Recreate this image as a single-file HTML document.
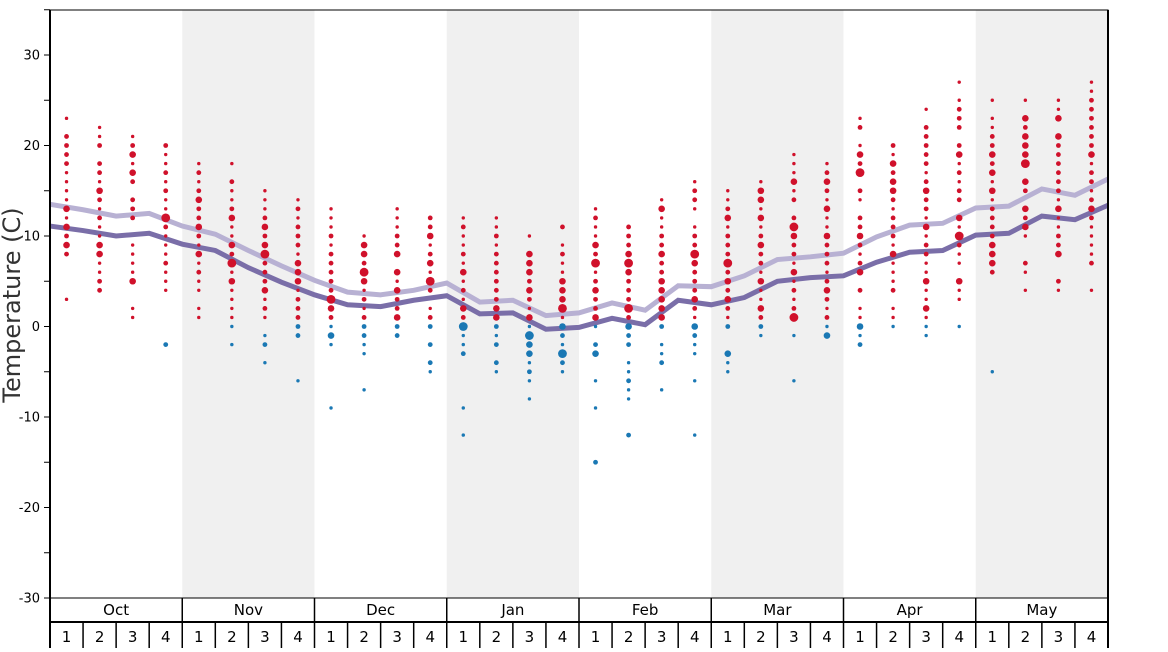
<!DOCTYPE html>
<html><head><meta charset="utf-8"><style>
body{margin:0;background:#fff;width:1168px;height:648px;overflow:hidden;font-family:"DejaVu Sans","Liberation Sans",sans-serif}
</style></head><body>
<svg id="chart" width="1168" height="648" xmlns="http://www.w3.org/2000/svg" font-family="DejaVu Sans, Liberation Sans, sans-serif"></svg>
<script>
const months=["Oct","Nov","Dec","Jan","Feb","Mar","Apr","May"];
const yTicks=[30,20,10,0,-10,-20,-30];
// values at week boundaries (33 points)
const darkLine=[11.1,10.6,10.0,10.3,9.1,8.4,6.5,4.9,3.5,2.4,2.2,2.9,3.4,1.4,1.5,-0.3,-0.1,0.9,0.2,2.9,2.4,3.2,5.0,5.4,5.6,7.1,8.2,8.4,10.1,10.3,12.2,11.8,13.4];
const lightLine=[13.5,12.9,12.2,12.5,11.1,10.2,8.4,6.7,5.1,3.8,3.5,4.0,4.8,2.7,2.9,1.2,1.5,2.6,1.8,4.5,4.4,5.6,7.4,7.7,8.1,9.9,11.2,11.4,13.1,13.3,15.2,14.5,16.3];
// per week: [temperature, frequency class 1-4]
const weekDots=[
[[23,1],[21,2],[20,2],[19,2],[18,2],[17,1],[16,1],[15,1],[14,1],[13,3],[12,1],[11,3],[10,2],[9,3],[8,2],[3,1]],
[[22,1],[21,1],[20,2],[18,2],[17,2],[16,1],[15,3],[14,2],[13,1],[12,2],[11,1],[10,1],[9,3],[8,3],[7,1],[6,1],[5,2],[4,2]],
[[21,1],[20,2],[19,3],[18,1],[17,3],[16,2],[14,2],[13,2],[12,2],[9,1],[8,1],[7,1],[6,1],[5,3],[2,1],[1,1]],
[[20,2],[19,1],[18,1],[17,2],[16,1],[15,2],[14,1],[13,1],[12,4],[11,2],[10,1],[9,1],[8,1],[7,2],[6,1],[5,1],[4,1],[-2,2]],
[[18,1],[17,2],[16,1],[15,2],[14,3],[13,2],[12,2],[11,3],[10,2],[9,1],[8,3],[7,1],[6,2],[5,1],[4,1],[2,1],[1,1]],
[[18,1],[16,2],[15,1],[14,1],[13,2],[12,3],[11,1],[10,1],[9,3],[8,2],[7,4],[6,1],[5,3],[4,1],[3,1],[2,1],[1,1],[0,1],[-2,1]],
[[15,1],[14,1],[13,1],[12,2],[11,3],[10,2],[9,3],[8,4],[7,2],[6,2],[5,2],[4,3],[3,1],[2,2],[1,1],[-1,1],[-2,2],[-4,1]],
[[14,1],[13,2],[12,1],[11,2],[10,2],[9,2],[8,1],[7,3],[6,3],[5,3],[4,1],[3,2],[2,2],[1,2],[0,2],[-1,2],[-6,1]],
[[13,1],[12,1],[11,1],[10,2],[9,1],[8,2],[7,2],[6,2],[5,2],[4,2],[3,4],[2,3],[1,2],[0,1],[-1,3],[-2,1],[-9,1]],
[[10,1],[9,3],[8,3],[7,2],[6,4],[5,3],[4,1],[3,2],[2,1],[1,2],[0,2],[-1,2],[-2,1],[-3,1],[-7,1]],
[[13,1],[12,1],[11,1],[10,2],[9,2],[8,3],[6,3],[5,1],[4,3],[3,2],[2,2],[1,3],[0,2],[-1,2]],
[[12,2],[11,2],[10,3],[9,1],[8,2],[7,3],[6,1],[5,4],[4,2],[2,1],[1,2],[0,2],[-2,2],[-4,2],[-5,1]],
[[12,1],[11,2],[10,1],[9,1],[8,2],[7,1],[6,3],[5,1],[4,2],[3,1],[2,3],[1,2],[0,4],[-1,1],[-2,1],[-3,2],[-9,1],[-12,1]],
[[12,1],[11,1],[10,2],[9,1],[8,2],[7,2],[6,2],[5,2],[4,2],[3,2],[2,3],[1,3],[0,2],[-1,1],[-2,2],[-4,2],[-5,1]],
[[10,1],[8,3],[7,3],[6,3],[5,2],[4,3],[3,2],[2,1],[1,3],[0,1],[-1,4],[-2,3],[-3,3],[-4,1],[-5,2],[-6,1],[-8,1]],
[[11,2],[9,1],[8,2],[7,1],[6,1],[5,3],[4,3],[3,3],[2,4],[1,1],[0,3],[-1,2],[-2,1],[-3,4],[-4,2],[-5,1]],
[[13,1],[12,2],[11,1],[10,1],[9,3],[8,2],[7,4],[6,1],[5,2],[4,3],[3,2],[2,2],[1,3],[0,1],[-2,2],[-3,3],[-6,1],[-9,1],[-15,2]],
[[11,2],[10,2],[9,2],[8,3],[7,4],[6,3],[5,2],[4,2],[3,2],[2,4],[1,2],[0,3],[-1,2],[-2,2],[-4,1],[-5,1],[-6,2],[-7,1],[-8,1],[-12,2]],
[[14,1],[13,3],[12,1],[11,1],[10,2],[9,2],[8,3],[7,2],[6,2],[5,3],[4,3],[3,3],[2,3],[1,3],[0,2],[-2,1],[-3,1],[-4,2],[-7,1]],
[[16,1],[15,2],[14,2],[13,1],[11,1],[10,2],[9,2],[8,4],[7,3],[6,2],[5,2],[4,2],[3,3],[2,2],[1,1],[0,3],[-1,2],[-2,1],[-3,1],[-6,1],[-12,1]],
[[15,1],[14,1],[13,2],[12,3],[11,1],[10,2],[9,2],[8,2],[7,4],[6,2],[5,3],[4,2],[3,3],[2,2],[1,1],[0,2],[-3,3],[-4,1],[-5,1]],
[[16,1],[15,3],[14,3],[13,1],[12,3],[11,1],[10,2],[9,3],[8,2],[7,2],[6,1],[5,3],[4,1],[3,1],[2,3],[1,2],[0,2],[-1,1]],
[[19,1],[18,1],[17,1],[16,3],[15,1],[14,2],[12,2],[11,4],[10,3],[9,2],[8,2],[7,1],[6,3],[5,1],[4,2],[3,1],[2,2],[1,4],[-1,1],[-6,1]],
[[18,1],[17,2],[16,3],[15,2],[14,1],[13,3],[12,1],[11,1],[10,3],[9,2],[8,2],[7,2],[6,1],[5,2],[4,3],[3,2],[2,1],[1,2],[0,1],[-1,3]],
[[23,1],[22,2],[20,1],[19,3],[18,2],[17,4],[15,2],[14,1],[12,2],[11,2],[10,3],[9,2],[8,1],[7,2],[6,3],[4,2],[2,1],[1,1],[0,3],[-1,1],[-2,2]],
[[20,2],[19,1],[18,3],[17,2],[16,3],[15,3],[14,2],[13,1],[12,2],[11,2],[10,2],[9,1],[8,3],[7,1],[6,1],[5,1],[4,2],[2,1],[1,1],[0,1]],
[[24,1],[22,2],[21,2],[20,2],[19,2],[18,2],[17,1],[16,2],[15,3],[14,2],[13,2],[12,1],[11,3],[10,1],[9,2],[8,2],[7,1],[6,1],[5,3],[4,1],[3,1],[2,3],[1,1],[0,1],[-1,1]],
[[27,1],[25,1],[24,2],[23,2],[22,2],[20,2],[19,3],[18,1],[17,2],[16,1],[15,2],[14,2],[12,3],[11,1],[10,4],[9,2],[8,1],[7,1],[5,3],[4,1],[3,1],[0,1]],
[[25,1],[23,1],[22,1],[21,2],[20,2],[19,3],[18,2],[17,3],[16,1],[15,3],[14,1],[13,2],[12,2],[11,2],[10,2],[9,3],[8,3],[7,3],[6,2],[-5,1]],
[[25,1],[23,3],[22,2],[21,3],[20,3],[19,3],[18,4],[16,3],[15,2],[13,3],[12,2],[11,3],[10,1],[7,2],[6,1],[4,1]],
[[25,1],[24,1],[23,3],[21,3],[20,2],[19,2],[18,2],[17,2],[16,2],[15,2],[14,1],[13,3],[12,1],[11,1],[10,2],[9,2],[8,3],[5,2],[4,1]],
[[27,1],[26,1],[25,2],[24,2],[23,2],[22,2],[21,2],[20,2],[19,3],[18,1],[17,2],[16,2],[15,1],[14,2],[13,3],[12,2],[11,1],[10,1],[9,1],[8,1],[7,2],[4,1]]
];

const NS="http://www.w3.org/2000/svg";
const svg=document.getElementById('chart');
const L=50,R=1108,T=10,B=598;
const nW=32, wW=(R-L)/nW;
const y=v=>326.5-v*9.05;
const xw=i=>L+wW*(i+0.5);
const xb=i=>L+wW*i;
const rad=[0,1.7,2.4,3.3,4.4];
function el(tag,attrs,parent){const e=document.createElementNS(NS,tag);for(const k in attrs)e.setAttribute(k,attrs[k]);(parent||svg).appendChild(e);return e;}
const RED="#d0112b",BLUE="#1a78b4";

months.forEach((m,i)=>{ if(i%2==1){const r=el('rect',{x:L+i*4*wW,y:T,width:4*wW,height:B-T,fill:"#f0f0f0"});

}});

function line(vals,color,name){
  const pts=vals.map((v,i)=>xb(i)+','+y(v)).join(' ');
  const p=el('polyline',{points:pts,fill:'none',stroke:color,'stroke-width':5,'stroke-linejoin':'miter'});
  
  
}
line(lightLine,"#b8b1d3","mean-high-line");
line(darkLine,"#7a6ea8","mean-low-line");

const dotsG=el('g',{});


weekDots.forEach((col,i)=>{
  col.forEach(d=>{
    const c=el('circle',{cx:xw(i),cy:y(d[0]),r:rad[d[1]],fill:d[0]<=0?BLUE:RED},dotsG);
    
    
  });
});

el('rect',{x:L,y:T,width:R-L,height:B-T,fill:'none',stroke:'#000','stroke-width':1});
const ax=el('line',{x1:L,y1:T,x2:L,y2:648,stroke:'#000','stroke-width':2});


for(let v=-30;v<=35;v+=5){el('line',{x1:L-6,x2:L,y1:y(v),y2:y(v),stroke:'#000'});}
yTicks.forEach(v=>{const t=el('text',{x:L-10,y:y(v)+4.5,'text-anchor':'end','font-size':13});t.textContent=v;

});
const yt=el('text',{x:0,y:0,'font-size':24,'text-anchor':'middle',fill:'#333',transform:'translate(20,305) rotate(-90)'});
yt.textContent="Temperature (C)";



el('line',{x1:L,x2:R,y1:622,y2:622,stroke:'#000','stroke-width':2});
el('line',{x1:R,x2:R,y1:T,y2:648,stroke:'#000','stroke-width':2});
months.forEach((m,i)=>{
  const x0=L+i*4*wW;
  el('line',{x1:x0,x2:x0,y1:598,y2:648,stroke:'#000','stroke-width':1.5});
  const t=el('text',{x:x0+2*wW,y:615,'text-anchor':'middle','font-size':15});t.textContent=m;
  
  
  for(let k=0;k<4;k++){
    if(k>0)el('line',{x1:x0+k*wW,x2:x0+k*wW,y1:622,y2:648,stroke:'#000','stroke-width':1.5});
    const w=el('text',{x:x0+(k+0.5)*wW,y:642,'text-anchor':'middle','font-size':15});w.textContent=k+1;
    
    
  }
});
</script>
</body></html>
